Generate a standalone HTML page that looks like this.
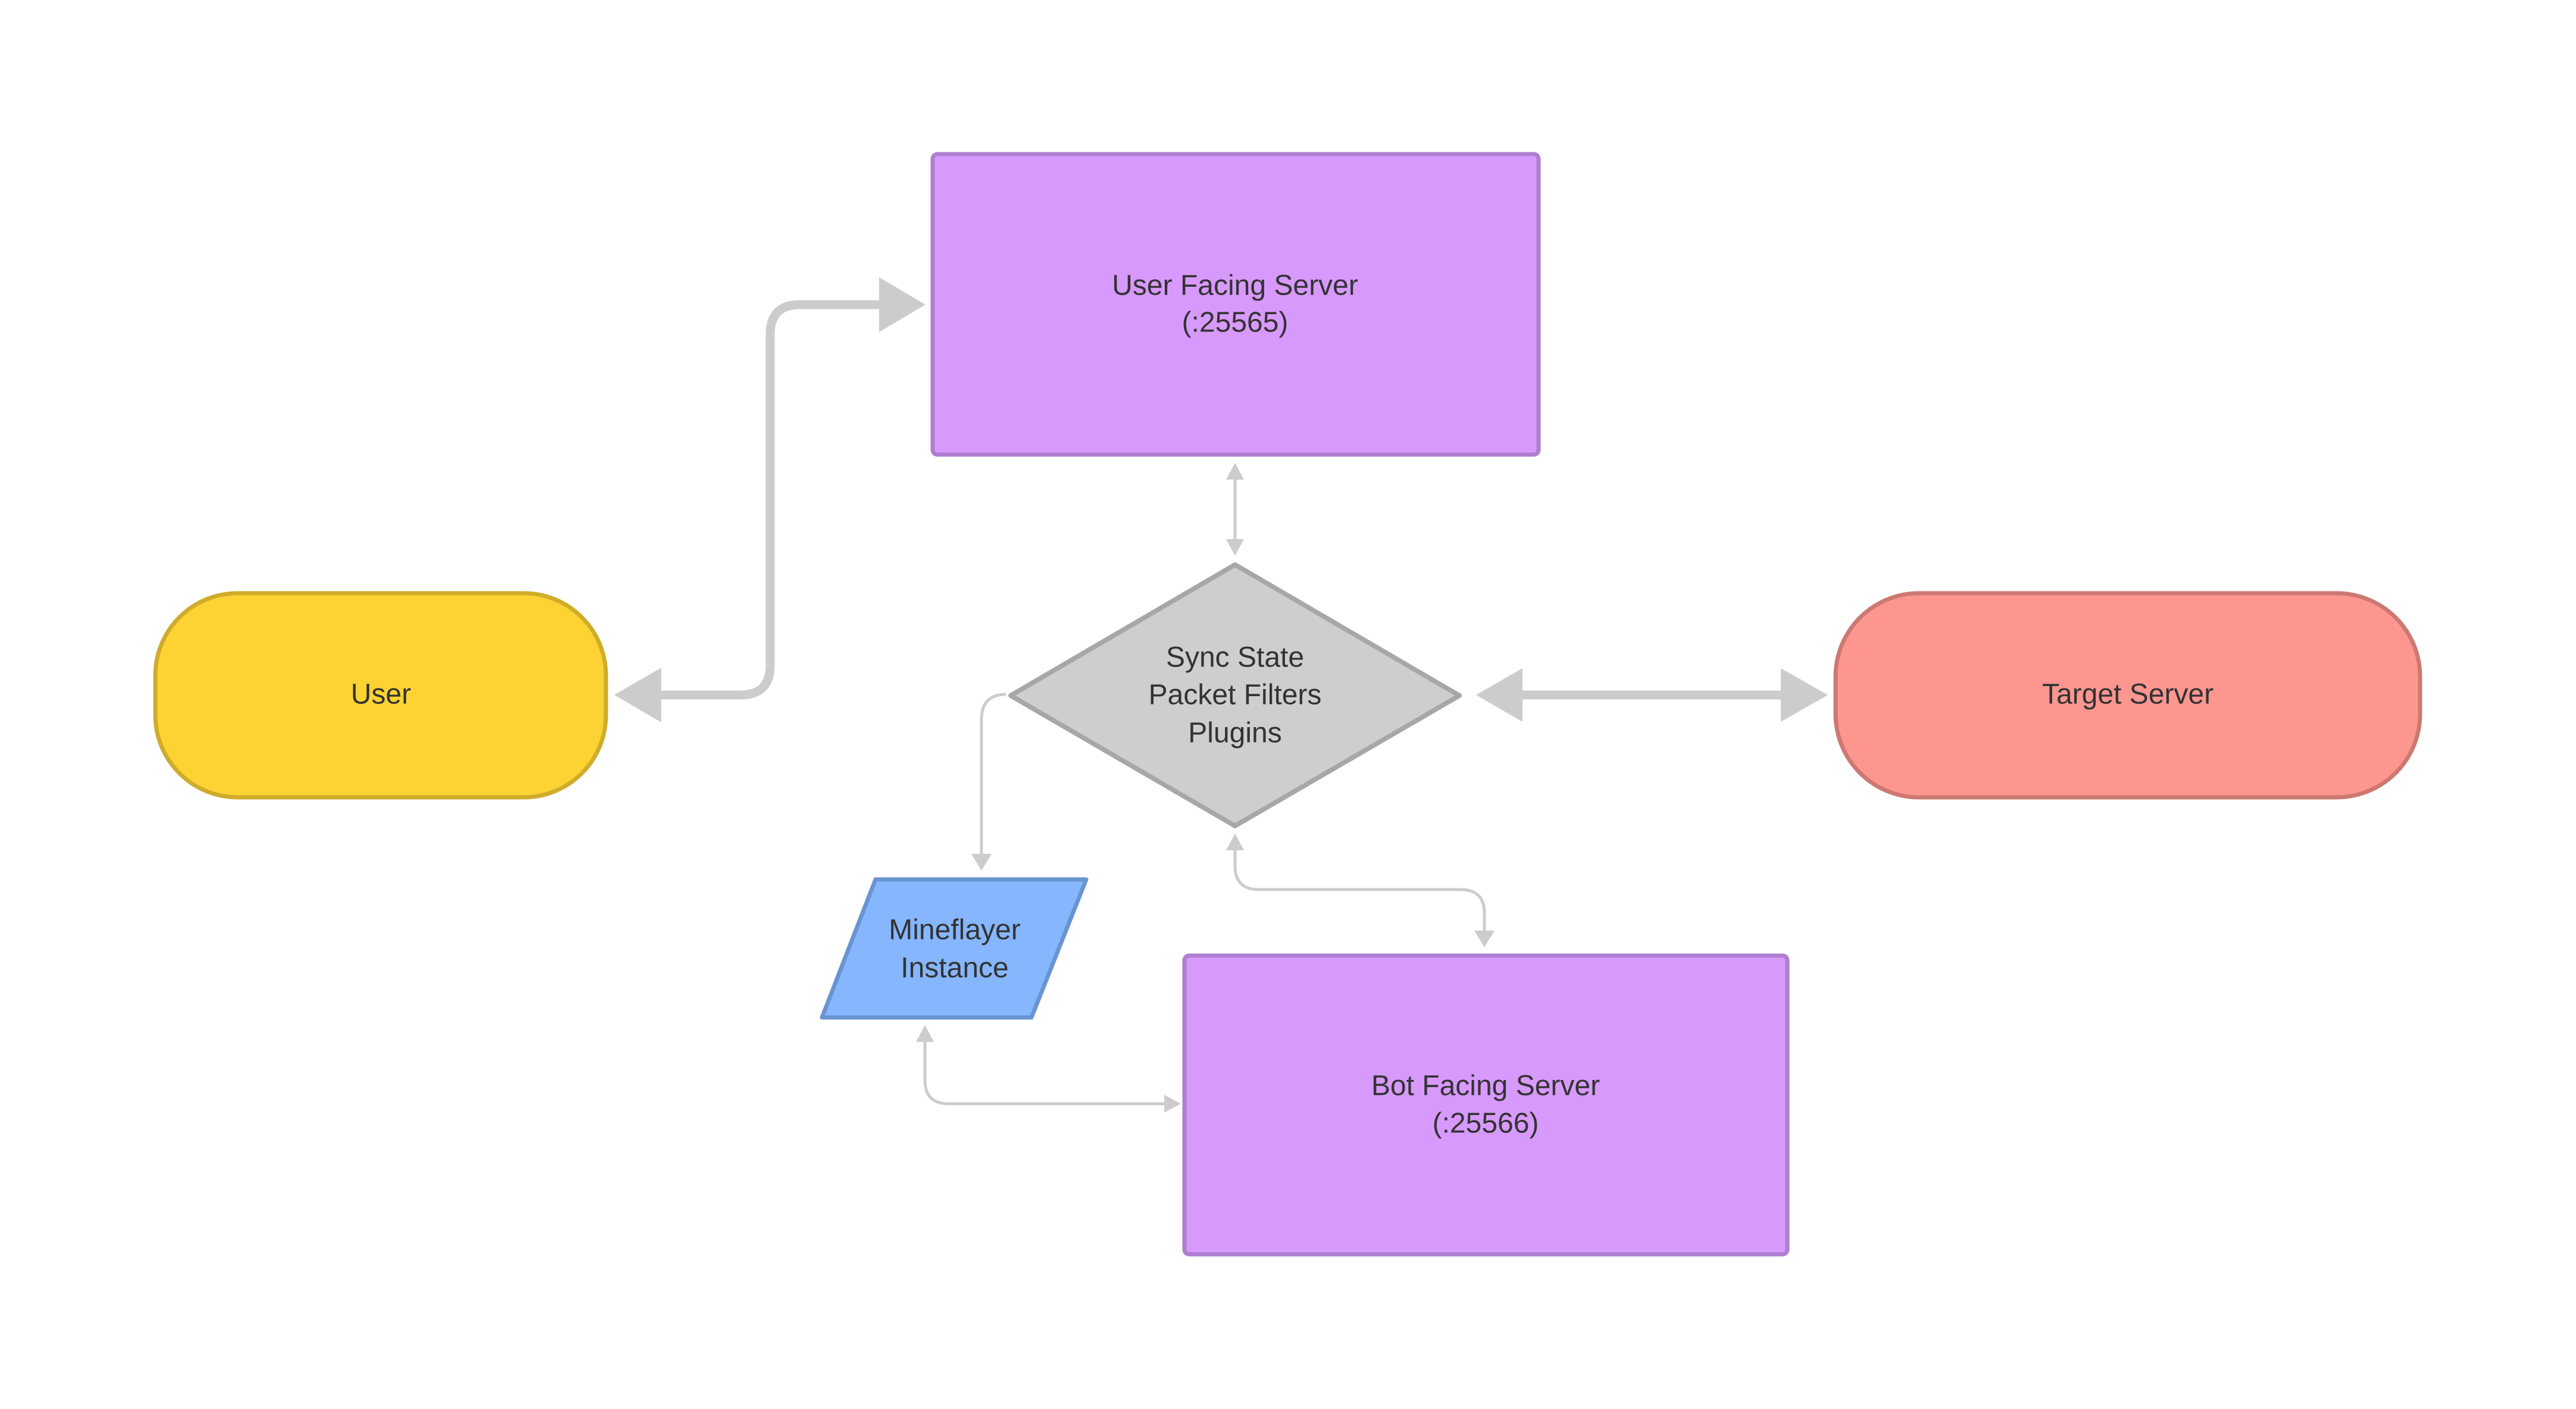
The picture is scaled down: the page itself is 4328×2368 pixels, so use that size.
<!DOCTYPE html>
<html><head><meta charset="utf-8"><style>
html,body{margin:0;padding:0;background:#fff}
svg{display:block}
text{font-family:"Liberation Sans",sans-serif;font-size:48px;fill:#333;text-anchor:middle;dominant-baseline:middle}
</style></head><body>
<svg width="4328" height="2368" viewBox="0 0 4328 2368" xmlns="http://www.w3.org/2000/svg">
<rect width="4328" height="2368" fill="#fff"/>
<!-- thick connectors -->
<g fill="none" stroke="#cdcccd" stroke-width="15">
<path d="M1111 1168 H1244 Q1294 1168 1294 1118 V562 Q1294 512 1344 512 H1480"/>
<path d="M2555 1168 H2995"/>
</g>
<g fill="#cdcccd">
<polygon points="1555,512 1477,466 1477,558"/>
<polygon points="1032,1168 1111,1122 1111,1214"/>
<polygon points="2480,1168 2558,1123 2558,1213"/>
<polygon points="3071,1168 2992,1123 2992,1213"/>
</g>
<!-- thin connectors -->
<g fill="none" stroke="#cdcccd" stroke-width="5">
<path d="M2075 800 V912"/>
<path d="M1690 1167 Q1649 1167 1649 1210 V1440"/>
<path d="M2075 1425 V1455 Q2075 1495 2115 1495 H2454 Q2494 1495 2494 1535 V1570"/>
<path d="M1554 1745 V1815 Q1554 1855 1594 1855 H1962"/>
</g>
<g fill="#cdcccd">
<polygon points="2075,778 2060,806 2090,806"/>
<polygon points="2075,934 2060,906 2090,906"/>
<polygon points="1649,1463 1632,1435 1666,1435"/>
<polygon points="2075,1401 2060,1429 2090,1429"/>
<polygon points="2494,1592 2477,1564 2511,1564"/>
<polygon points="1554,1723 1539,1751 1569,1751"/>
<polygon points="1984,1855 1956,1840 1956,1870"/>
</g>
<!-- nodes -->
<rect x="1567" y="259" width="1018" height="505" rx="8" fill="#d899fd" stroke="#ae7fd0" stroke-width="7"/>
<text x="2075" y="483">User Facing Server</text>
<text x="2075" y="545">(:25565)</text>

<polygon points="2075,949 2452,1169 2075,1388 1698,1169" fill="#cfcdcf" stroke="#a8a7a8" stroke-width="8" stroke-linejoin="round"/>
<text x="2075" y="1108">Sync State</text>
<text x="2075" y="1171">Packet Filters</text>
<text x="2075" y="1235">Plugins</text>

<rect x="261" y="997" width="757" height="343" rx="138" ry="138" fill="#fdd333" stroke="#cfac2a" stroke-width="7"/>
<text x="640" y="1170">User</text>

<rect x="3084" y="997" width="982" height="343" rx="140" ry="140" fill="#fe9690" stroke="#cc7972" stroke-width="7"/>
<text x="3575" y="1170">Target Server</text>

<polygon points="1471,1478 1825,1478 1733,1710 1381,1710" fill="#86b6fe" stroke="#6a94d0" stroke-width="7" stroke-linejoin="round"/>
<text x="1604" y="1566">Mineflayer</text>
<text x="1604" y="1630">Instance</text>

<rect x="1990" y="1606" width="1013" height="502" rx="8" fill="#d899fd" stroke="#ae7fd0" stroke-width="7"/>
<text x="2496" y="1828">Bot Facing Server</text>
<text x="2496" y="1891">(:25566)</text>
</svg>
</body></html>
